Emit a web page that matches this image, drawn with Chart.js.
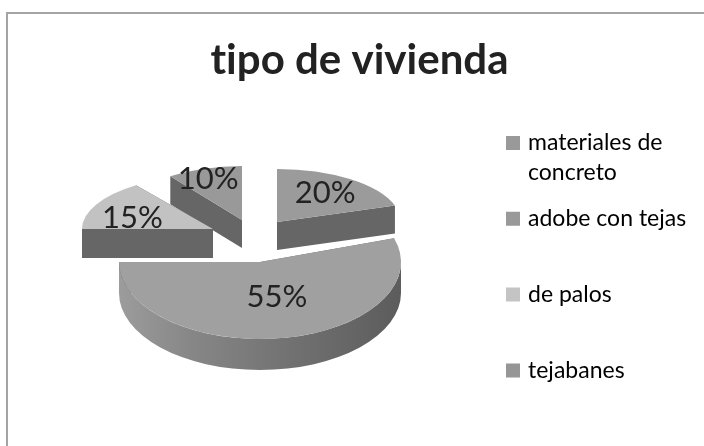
<!DOCTYPE html>
<html><head><meta charset="utf-8">
<style>html,body{margin:0;padding:0;background:#fff}#w{width:704px;height:446px}</style>
<script src="https://cdn.jsdelivr.net/npm/chart.js@4"></script>
</head><body><div id="w"><canvas id="c" width="704" height="446"></canvas></div>
<script>
const chartTitle = 'tipo de vivienda';
const categories = ['materiales de concreto', 'adobe con tejas', 'de palos', 'tejabanes'];
const legendLines = [['materiales de', 'concreto'], ['adobe con tejas', ''], ['de palos', ''], ['tejabanes', '']];
const values = [20, 55, 15, 10];
const topColors = ['#9b9b9b', '#a0a0a0', '#c2c2c2', '#999999'];
const legendColors = ['#999999', '#999999', '#c4c4c4', '#969696'];
const faceColor = '#666666';
// Projection of each exploded slice: apex, ellipse radii, wall depth, label position as radius fractions
const sliceGeom = [
  {x:277, y:222, rx:124, ry:53, d:28, fx:.66, fy:.68},
  {x:260, y:262, rx:141, ry:77, d:31, fx:.77, fy:.46},
  {x:213, y:229, rx:131, ry:54, d:29, fx:.69, fy:.45},
  {x:242, y:220, rx:122, ry:54, d:28, fx:.90, fy:.80}
];
const drawOrder = [3, 0, 2, 1];
const pct = { size: 31, family: 'Lato' };

function pt(g, a, extra) {
  return [g.x + g.rx * Math.cos(a), g.y + g.ry * Math.sin(a) + (extra || 0)];
}
function wall(ctx, g, a) {
  const p = pt(g, a);
  ctx.beginPath();
  ctx.moveTo(g.x, g.y);
  ctx.lineTo(p[0], p[1]);
  ctx.lineTo(p[0], p[1] + g.d);
  ctx.lineTo(g.x, g.y + g.d);
  ctx.closePath();
  ctx.fillStyle = faceColor;
  ctx.fill();
}
function rim(ctx, g, a0, a1) {
  const segs = [[0, Math.PI], [2 * Math.PI, 3 * Math.PI]];
  for (const s of segs) {
    const from = Math.max(a0, s[0]), to = Math.min(a1, s[1]);
    if (to <= from) continue;
    const grad = ctx.createLinearGradient(g.x - g.rx, 0, g.x + g.rx, 0);
    grad.addColorStop(0, '#9c9c9c');
    grad.addColorStop(0.25, '#878787');
    grad.addColorStop(0.65, '#6f6f6f');
    grad.addColorStop(1, '#5c5c5c');
    ctx.beginPath();
    ctx.ellipse(g.x, g.y, g.rx, g.ry, 0, from, to, false);
    ctx.ellipse(g.x, g.y + g.d, g.rx, g.ry, 0, to, from, true);
    ctx.closePath();
    ctx.fillStyle = grad;
    ctx.fill();
  }
}
const pie3d = {
  id: 'pie3d',
  afterLayout(chart) {
    const lg = chart.legend, tb = chart.titleBlock;
    lg.top = 115.5;
    lg.left = 493.5;
    const shift = 359.5 - (tb.left + tb.right) / 2;
    tb.left += shift;
    tb.right += shift;
  },
  beforeDraw(chart) {
    const ctx = chart.ctx;
    ctx.letterSpacing = '0.01px'; // keeps "ti" from forming a ligature
    ctx.save();
    ctx.strokeStyle = '#a4a4a4';
    ctx.lineWidth = 2;
    ctx.beginPath();
    ctx.moveTo(7, 446);
    ctx.lineTo(7, 13);
    ctx.lineTo(704, 13);
    ctx.stroke();
    ctx.restore();
  },
  beforeDatasetDraw(chart) {
    const ctx = chart.ctx;
    const arcs = chart.getDatasetMeta(0).data;
    for (const i of drawOrder) {
      const el = arcs[i], g = sliceGeom[i];
      const R = el.outerRadius;
      const p = el.getProps(['x', 'y', 'startAngle', 'endAngle']);
      wall(ctx, g, p.startAngle);
      wall(ctx, g, p.endAngle);
      rim(ctx, g, p.startAngle, p.endAngle);
      ctx.save();
      ctx.translate(g.x, g.y);
      ctx.scale(g.rx / R, g.ry / R);
      ctx.translate(-p.x, -p.y);
      el.draw(ctx);
      ctx.restore();
    }
    return false;
  },
  afterDatasetsDraw(chart) {
    const ctx = chart.ctx;
    const arcs = chart.getDatasetMeta(0).data;
    ctx.save();
    ctx.font = pct.size + 'px ' + pct.family;
    ctx.fillStyle = '#222222';
    ctx.textAlign = 'center';
    ctx.textBaseline = 'middle';
    arcs.forEach((el, i) => {
      const g = sliceGeom[i];
      const p = el.getProps(['startAngle', 'endAngle']);
      const m = (p.startAngle + p.endAngle) / 2;
      ctx.fillText(values[i] + '%', g.x + g.rx * g.fx * Math.cos(m), g.y + g.ry * g.fy * Math.sin(m));
    });
    ctx.restore();
  }
};
new Chart(document.getElementById('c'), {
  type: 'pie',
  data: { labels: categories, datasets: [{ data: values, backgroundColor: topColors, borderWidth: 0 }] },
  plugins: [pie3d],
  options: {
    responsive: false, animation: false,
    layout: { padding: { left: 10, right: 16, top: 0, bottom: 0 } },
    plugins: {
      tooltip: { enabled: false },
      title: { display: true, text: chartTitle, color: '#222222', font: { family: 'Lato', size: 42, weight: 'bold' }, padding: { top: 35, bottom: 20 } },
      legend: {
        position: 'right', align: 'start',
        labels: {
          font: { family: 'Lato', size: 23, lineHeight: 1.3 }, color: '#333333',
          boxWidth: 7, boxHeight: 7, padding: 16,
          generateLabels: () => legendLines.map((t, i) => ({ text: t, fillStyle: legendColors[i], strokeStyle: legendColors[i], lineWidth: 7, index: i, hidden: false }))
        }
      }
    }
  }
});
</script></body></html>
